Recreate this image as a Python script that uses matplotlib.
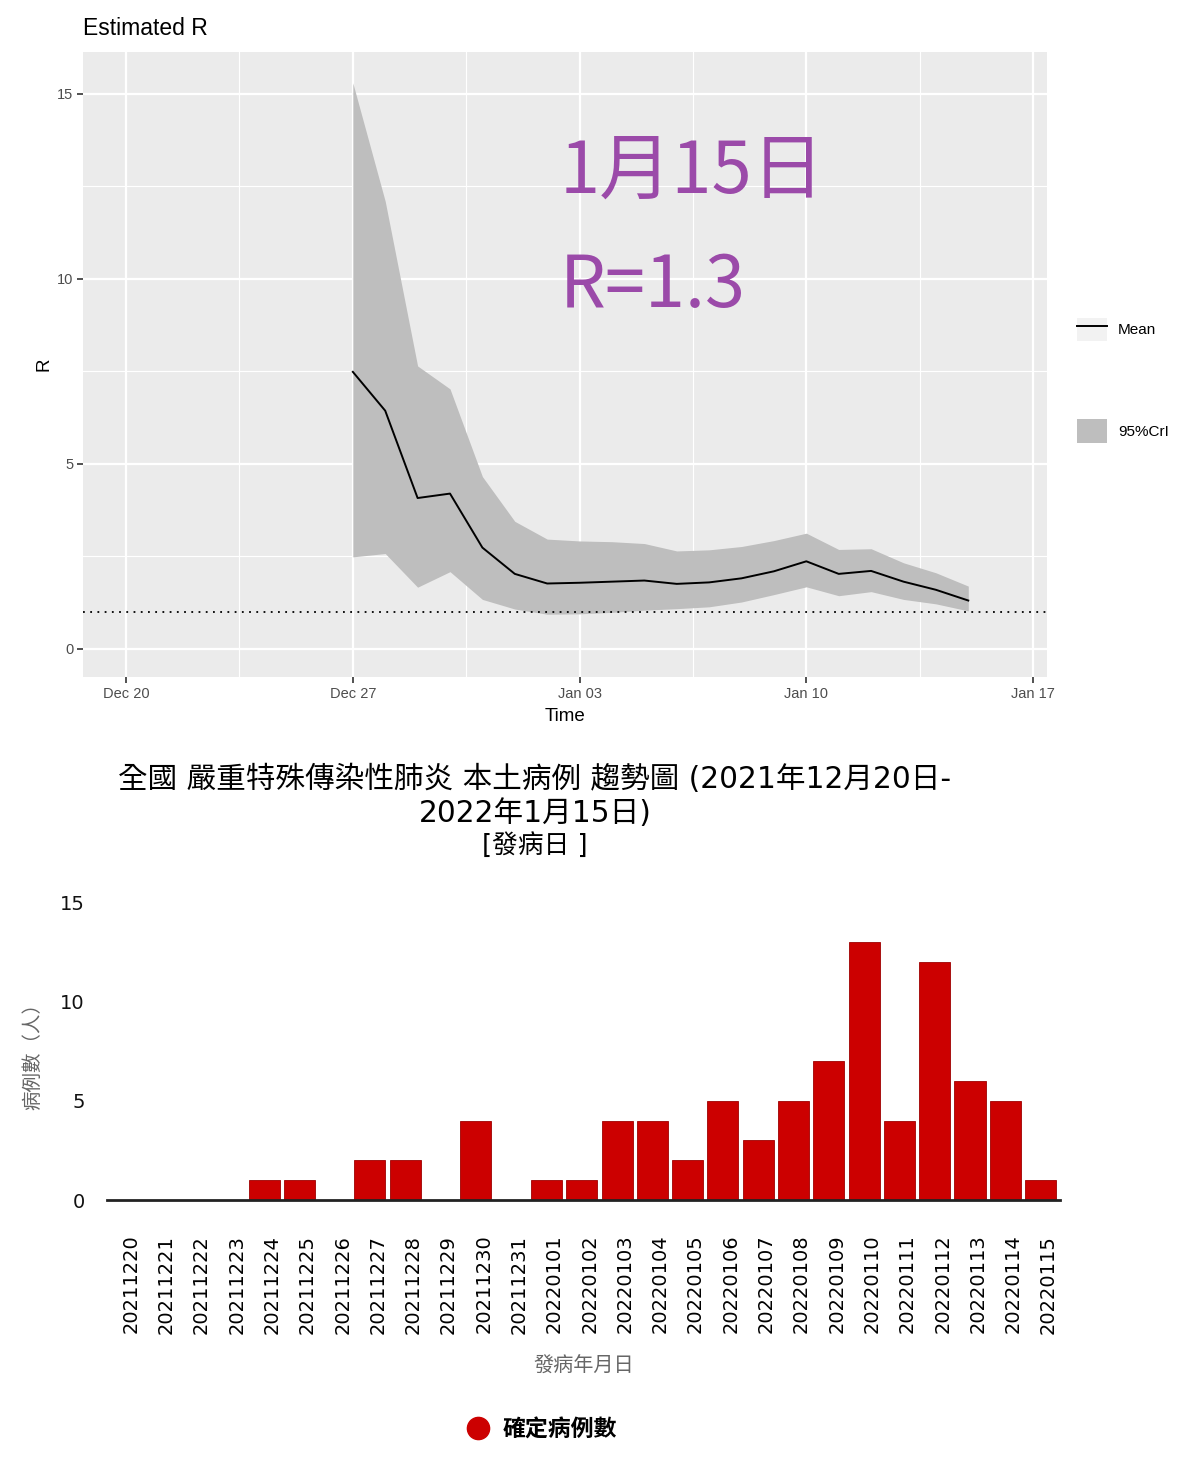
import matplotlib
matplotlib.use("Agg")
import matplotlib.pyplot as plt
import matplotlib.dates as mdates
import matplotlib.transforms as mtransforms
from matplotlib.lines import Line2D
from matplotlib.patches import Patch
import numpy as np

# Estimated R (Dec 27 - Jan 15)
r_dates = np.arange(np.datetime64("2021-12-27"), np.datetime64("2022-01-16"))
r_mean = [7.49, 6.44, 4.08, 4.20, 2.74, 2.03, 1.77, 1.79, 1.82, 1.85,
          1.76, 1.80, 1.91, 2.10, 2.37, 2.03, 2.11, 1.82, 1.60, 1.31]
r_upper = [15.3, 12.1, 7.65, 7.03, 4.66, 3.45, 2.97, 2.92, 2.90, 2.85,
           2.65, 2.68, 2.77, 2.93, 3.13, 2.69, 2.71, 2.33, 2.06, 1.70]
r_lower = [2.49, 2.58, 1.67, 2.09, 1.34, 1.08, 0.94, 0.95, 0.99, 1.05,
           1.09, 1.14, 1.27, 1.47, 1.68, 1.44, 1.55, 1.34, 1.22, 1.03]
r_ticks = ["2021-12-20", "2021-12-27", "2022-01-03", "2022-01-10", "2022-01-17"]

# daily local cases by onset date
case_days = ["20211220", "20211221", "20211222", "20211223", "20211224", "20211225",
             "20211226", "20211227", "20211228", "20211229", "20211230", "20211231",
             "20220101", "20220102", "20220103", "20220104", "20220105", "20220106",
             "20220107", "20220108", "20220109", "20220110", "20220111", "20220112",
             "20220113", "20220114", "20220115"]
case_counts = [0, 0, 0, 0, 1, 1, 0, 2, 2, 0, 4, 0, 1, 1, 4, 4, 2, 5, 3, 5, 7, 13, 4, 12, 6, 5, 1]

W, H = 1200, 1465
fig = plt.figure(figsize=(W / 100, H / 100), dpi=100)
cjk = ["Noto Sans CJK TC", "DejaVu Sans"]
lat_cjk = ["DejaVu Sans", "Noto Sans CJK TC"]

# ---------- top panel: ggplot-like R estimate ----------
ax1 = fig.add_axes([83 / W, 1 - 677 / H, (1047 - 83) / W, (677 - 52) / H])
ax1.set_facecolor("#ebebeb")
for s in ax1.spines.values():
    s.set_visible(False)

x = mdates.date2num(r_dates.astype("datetime64[D]").astype(object))
ax1.fill_between(x, r_lower, r_upper, color="#bebebe", lw=0, zorder=2)
ax1.plot(x, r_mean, color="black", lw=1.4, zorder=3)
ax1.axhline(1, color="black", ls=(0, (1, 3)), lw=1.3, zorder=4)

major = mdates.date2num([np.datetime64(d).astype(object) for d in r_ticks])
ax1.set_xticks(major)
ax1.set_xticklabels(["Dec 20", "Dec 27", "Jan 03", "Jan 10", "Jan 17"])
ax1.set_xticks((major[:-1] + major[1:]) / 2, minor=True)
ax1.set_yticks([0, 5, 10, 15])
ax1.set_yticks([2.5, 7.5, 12.5], minor=True)
ax1.set_xlim(major[0] - 1.33, major[-1] + 0.43)
ax1.set_ylim(-0.757, 16.135)
ax1.grid(which="major", color="white", lw=1.6, zorder=0)
ax1.grid(which="minor", color="white", lw=0.8, zorder=0)
ax1.set_axisbelow(True)
ax1.tick_params(which="major", length=4, width=1.2, color="#333333",
                labelcolor="#4d4d4d", labelsize=10.5, pad=3)
for lab in ax1.get_xticklabels() + ax1.get_yticklabels():
    lab.set_family("Liberation Sans")
ax1.tick_params(which="minor", length=0)
ax1.set_xlabel("Time", family="Liberation Sans", fontsize=13.5, labelpad=5)
ax1.set_ylabel("R", family="Liberation Sans", fontsize=13.5, labelpad=3)
ax1.set_title("Estimated R", family="Liberation Sans", fontsize=16.5, loc="left", pad=12)

ax1.text(560 / W, 1 - 172 / H, "1月15日", transform=fig.transFigure, family=cjk,
         fontsize=52, color="#9b4aa9", va="center", ha="left")
ax1.text(560 / W, 1 - 286 / H, "R=1.3", transform=fig.transFigure, family=cjk,
         fontsize=52, color="#9b4aa9", va="center", ha="left")

h_mean = (Patch(facecolor="#f2f2f2", edgecolor="none"), Line2D([], [], color="black", lw=1.4))
h_cri = Patch(facecolor="#bebebe", edgecolor="none")
leg1 = fig.legend([h_mean, h_cri], ["Mean", "95%CrI"], loc="upper left",
                  bbox_to_anchor=(1063 / W, 1 - 304 / H), frameon=False,
                  prop={"family": "Liberation Sans", "size": 11},
                  handlelength=2.0, handleheight=2.0, labelspacing=5.1, handletextpad=0.7)

# ---------- bottom panel: bar chart ----------
fig.text(535 / W, 1 - 779 / H, "全國 嚴重特殊傳染性肺炎 本土病例 趨勢圖 (2021年12月20日-",
         family=lat_cjk, fontsize=21.3, ha="center", va="center")
fig.text(535 / W, 1 - 814 / H, "2022年1月15日)",
         family=lat_cjk, fontsize=21.3, ha="center", va="center")
fig.text(535 / W, 1 - 846 / H, "[發病日 ]",
         family=lat_cjk, fontsize=18.5, ha="center", va="center")

ax2 = fig.add_axes([107 / W, 1 - 1200 / H, (1060 - 107) / W, (1200 - 902) / H])
pos = np.arange(len(case_days))
ax2.bar(pos, case_counts, width=0.88, color="#cc0000", edgecolor="#9e0000", lw=0.6)
ax2.set_xlim(-0.45, len(case_days) - 0.45)
ax2.set_ylim(0, 15)
for k in ["top", "right", "left"]:
    ax2.spines[k].set_visible(False)
ax2.spines["bottom"].set_linewidth(2)
ax2.spines["bottom"].set_color("#222222")
ax2.set_yticks([0, 5, 10, 15])
ax2.tick_params(axis="y", length=0, pad=16, labelsize=14, labelcolor="#111111")
for lab in ax2.get_yticklabels():
    lab.set_family("DejaVu Sans")
ax2.set_xticks(pos)
ax2.set_xticklabels(case_days, rotation=90, family="DejaVu Sans", fontsize=14, va="top")
ax2.tick_params(axis="x", length=0, pad=25)
shift = mtransforms.ScaledTranslation(8 / 100, 0, fig.dpi_scale_trans)
for lab in ax2.get_xticklabels():
    lab.set_transform(lab.get_transform() + shift)
ax2.set_ylabel("病例數（人）", family=cjk, fontsize=14, color="#666666")
ax2.yaxis.set_label_coords(-64 / (1060 - 107), 0.5)
ax2.set_xlabel("發病年月日", family=cjk, fontsize=14.5, color="#666666", labelpad=16)

h_case = Line2D([], [], marker="o", color="#cc0000", ls="none", markersize=16)
fig.legend([h_case], ["確定病例數"], loc="center", bbox_to_anchor=(536 / W, 1 - 1430 / H),
           frameon=False, prop={"family": cjk, "size": 16.5, "weight": "bold"},
           handletextpad=0.1)

fig.savefig("out.png", dpi=100)
